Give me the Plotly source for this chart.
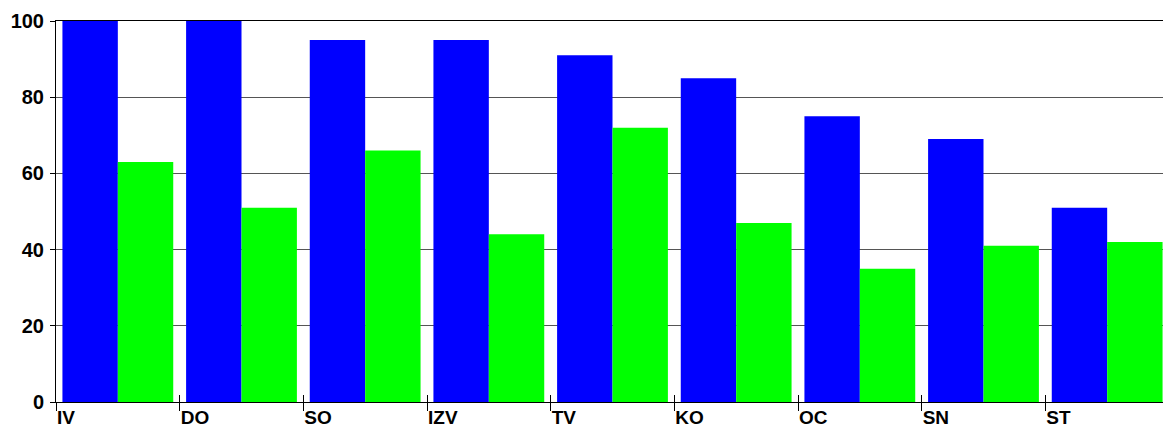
import plotly.graph_objects as go

categories = ["IV", "DO", "SO", "IZV", "TV", "KO", "OC", "SN", "ST"]
blue_values = [100, 100, 95, 95, 91, 85, 75, 69, 51]
green_values = [63, 51, 66, 44, 72, 47, 35, 41, 42]
y_ticks = [0, 20, 40, 60, 80, 100]

x_idx = list(range(len(categories)))
boundaries = [i - 0.5 for i in x_idx]

font = dict(family="Liberation Sans, Arial, sans-serif", size=19, color="black", weight="bold")

fig = go.Figure()
fig.add_trace(go.Bar(x=x_idx, y=blue_values, marker=dict(color="#0000FF", line=dict(width=0)), showlegend=False))
fig.add_trace(go.Bar(x=x_idx, y=green_values, marker=dict(color="#00FF00", line=dict(width=0)), showlegend=False))
fig.add_trace(go.Scatter(x=[None], y=[None], xaxis="x2", yaxis="y", showlegend=False, hoverinfo="skip"))

xr = [-0.5, 8.5 - 6 / 123.7]

fig.update_layout(
    width=1163, height=428, autosize=False,
    margin=dict(l=56, r=0, t=21, b=26, autoexpand=False),
    paper_bgcolor="white", plot_bgcolor="white",
    barmode="group", bargap=0.104, bargroupgap=0,
    font=font,
    xaxis=dict(
        range=xr, tickmode="array", tickvals=boundaries, ticktext=categories,
        ticks="outside", ticklen=8, tickcolor="black", tickwidth=1,
        ticklabelposition="outside right", automargin=False, ticklabelstandoff=-2,
        showline=True, linecolor="black", linewidth=1, mirror=True,
        showgrid=False, zeroline=False, tickfont=font,
    ),
    xaxis2=dict(
        range=xr, overlaying="x", anchor="y", side="bottom",
        tickmode="array", tickvals=boundaries, ticks="inside", ticklen=7,
        tickcolor="black", showticklabels=False, showgrid=False, zeroline=False,
        showline=False, automargin=False,
    ),
    yaxis=dict(
        range=[0, 100], tickmode="array", tickvals=y_ticks,
        ticks="outside", ticklen=5, tickcolor="black", automargin=False,
        showline=True, linecolor="black", linewidth=1,
        showgrid=True, gridcolor="#555555", gridwidth=1, zeroline=False,
        tickfont=dict(family=font["family"], size=20, color="black", weight="bold"),
        ticklabelstandoff=2,
    ),
)

fig.write_html(
    "out.html",
    config={"displayModeBar": False},
    post_script="document.body.style.margin='0';document.body.style.overflow='hidden';",
)
